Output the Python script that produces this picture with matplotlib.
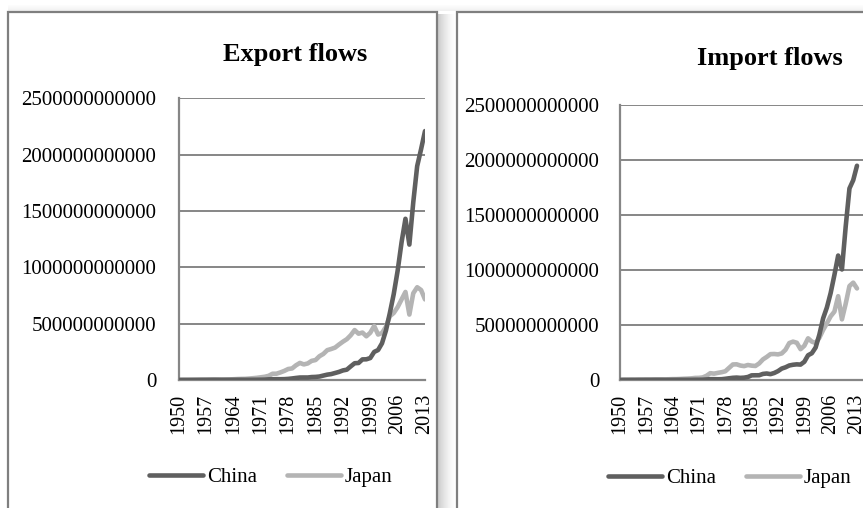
import numpy as np
import matplotlib.pyplot as plt
from matplotlib.patches import Rectangle

plt.rcParams["font.family"] = ["Liberation Serif", "DejaVu Serif"]

years = list(range(1950, 2014))

# billions of US$
china_exp = [0.55, 0.76, 0.82, 1.02, 1.15, 1.41, 1.65, 1.6, 1.98, 2.26,
             1.86, 1.49, 1.49, 1.65, 1.92, 2.23, 2.37, 2.14, 2.1, 2.2,
             2.26, 2.64, 3.44, 5.82, 6.95, 7.26, 6.86, 7.59, 9.75, 13.66,
             18.1, 22.0, 22.3, 22.2, 26.1, 27.4, 30.9, 39.4, 47.5, 52.5,
             62.1, 71.8, 84.9, 91.7, 121.0, 148.8, 151.0, 182.8, 183.7, 194.9,
             249.2, 266.1, 325.6, 438.2, 593.3, 762.0, 969.0, 1220.5, 1430.7, 1201.6,
             1577.8, 1898.4, 2048.7, 2209.0]
japan_exp = [0.82, 1.35, 1.27, 1.27, 1.63, 2.01, 2.5, 2.86, 2.88, 3.46,
             4.05, 4.24, 4.92, 5.45, 6.67, 8.45, 9.78, 10.44, 12.97, 15.99,
             19.32, 24.02, 28.59, 36.93, 55.54, 55.75, 67.2, 80.49, 97.54, 102.3,
             130.4, 151.5, 138.4, 146.9, 169.7, 177.2, 210.8, 231.3, 264.9, 275.2,
             287.6, 314.8, 339.9, 362.2, 397.0, 443.1, 410.9, 421.0, 388.0, 419.4,
             479.3, 403.5, 416.7, 471.8, 565.7, 594.9, 646.7, 714.3, 781.4, 580.7,
             769.8, 823.2, 798.6, 715.1]
china_imp = [0.58, 1.2, 1.12, 1.35, 1.29, 1.73, 1.56, 1.5, 1.89, 2.12,
             1.95, 1.45, 1.17, 1.27, 1.55, 2.02, 2.25, 2.02, 1.95, 1.83,
             2.33, 2.2, 2.86, 5.16, 7.62, 7.49, 6.58, 7.21, 10.89, 15.68,
             19.94, 22.0, 19.29, 21.39, 27.41, 42.25, 42.9, 43.2, 55.3, 59.1,
             53.4, 63.8, 80.6, 104.0, 115.6, 132.1, 138.8, 142.4, 140.2, 165.7,
             225.1, 243.6, 295.2, 412.8, 561.2, 660.0, 791.5, 956.1, 1132.6, 1005.9,
             1396.2, 1743.5, 1818.4, 1950.0]
japan_imp = [0.97, 1.99, 2.03, 2.41, 2.4, 2.47, 3.23, 4.28, 3.03, 3.6,
             4.49, 5.81, 5.64, 6.74, 7.94, 8.17, 9.52, 11.66, 12.99, 15.02,
             18.88, 19.71, 23.47, 38.31, 62.11, 57.86, 64.8, 70.81, 79.34, 110.67,
             141.3, 142.87, 131.5, 126.4, 136.5, 130.5, 127.7, 151.0, 187.4, 209.7,
             235.4, 236.7, 233.0, 241.6, 275.2, 336.0, 349.2, 338.8, 280.5, 311.3,
             379.5, 349.1, 337.2, 383.5, 455.3, 516.0, 579.6, 622.2, 762.5, 552.0,
             694.1, 855.4, 886.0, 833.2]

W, H = 863, 508
fig = plt.figure(figsize=(W / 100, H / 100), dpi=100)


def px(x0, y0, x1, y1):
    return [x0 / W, 1 - y1 / H, (x1 - x0) / W, (y1 - y0) / H]


# soft shadow right of the left panel and above both
n = 18
for i in range(n):
    a = 0.38 * (1 - i / n) ** 1.5
    fig.patches.append(Rectangle(((437 + i) / W, 0), 1 / W, 1 - 14 / H,
                                 transform=fig.transFigure, color="#707070",
                                 alpha=a, lw=0, zorder=0))
for i in range(6):
    fig.patches.append(Rectangle((8 / W, 1 - (11 - i) / H), 860 / W, 1 / H,
                                 transform=fig.transFigure, color="#909090",
                                 alpha=0.12 * (1 - i / 6), lw=0, zorder=0))
for x0, x1 in [(8, 437), (457, 870)]:
    fig.patches.append(Rectangle((x0 / W, -0.02), (x1 - x0) / W, 1 - 12 / H + 0.02,
                                 transform=fig.transFigure, fc="white",
                                 ec="#7f7f7f", lw=1.6, zorder=1))

panels = [
    ("Export flows", china_exp, japan_exp, px(178.7, 98.3, 425, 380), 2013.0, (295, 55), (271, 477), 16),
    ("Import flows", china_imp, japan_imp, px(620, 105.3, 863, 380), 2014.6, (770, 58), (730, 478), 15),
]

for title, ch, jp, rect, xmax, tpos, lpos, ypad in panels:
    ax = fig.add_axes(rect)
    ax.set_zorder(2)
    ax.patch.set_alpha(0)
    l1, = ax.plot(years, np.array(ch) * 1e9, color="#5f5f5f", lw=3.3,
                  solid_capstyle="round", label="China", zorder=3)
    l2, = ax.plot(years, np.array(jp) * 1e9, color="#b4b4b4", lw=3.3,
                  solid_capstyle="round", label="Japan", zorder=2)
    ax.set_xlim(1950, xmax)
    ax.set_ylim(0, 2.5e12)
    ax.set_yticks(np.arange(0, 2.5e12 + 1, 5e11))
    ax.set_yticklabels([f"{int(v)}" for v in np.arange(0, 2.5e12 + 1, 5e11)])
    ax.set_xticks(years[::7])
    ax.set_xticklabels([str(y) for y in years[::7]], rotation=90)
    ax.yaxis.grid(True, color="#868686", lw=1.4)
    ax.set_axisbelow(True)
    for s in ["top", "right"]:
        ax.spines[s].set_visible(False)
    for s in ["left", "bottom"]:
        ax.spines[s].set_color("#868686")
        ax.spines[s].set_linewidth(1.6)
    ax.tick_params(axis="y", length=0, pad=ypad, labelsize=15)
    ax.tick_params(axis="x", length=0, pad=10, labelsize=14.5)
    fig.text(tpos[0] / W, 1 - tpos[1] / H, title, ha="center", va="center",
             fontsize=19, fontweight="bold", zorder=5)
    fig.legend([l1, l2], ["China", "Japan"], loc="center",
               bbox_to_anchor=(lpos[0] / W, 1 - lpos[1] / H), ncol=2,
               frameon=False, fontsize=15, handlelength=2.6, handletextpad=0.2,
               columnspacing=1.4)

fig.savefig("out.png", dpi=100)
